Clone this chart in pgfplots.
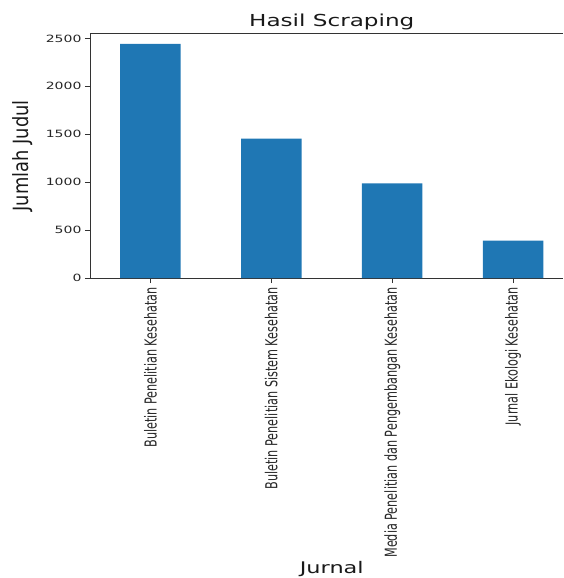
\documentclass[border=0pt]{standalone}
\usepackage{fontspec}
\setmainfont{DejaVu Sans}
\newfontfamily\hfont[FakeStretch=1.4]{DejaVu Sans}
\newfontfamily\vfont[FakeStretch=0.68]{DejaVu Sans}
\newfontfamily\yfont[FakeStretch=0.85]{DejaVu Sans}
\usepackage{pgfplots}
\pgfplotsset{compat=1.18}
\usetikzlibrary{calc}
\definecolor{mplblue}{HTML}{1F77B4}
\definecolor{axgray}{HTML}{333333}
\begin{document}
\begin{tikzpicture}
\begin{axis}[
  scale only axis, width=473pt, height=244.3pt,
  xmin=-0.5, xmax=3.413, ymin=0, ymax=2549,
  clip=false,
  axis lines=left,
  axis line style={-, line width=0.8pt, axgray},
  tick align=outside, major tick length=5pt,
  tick style={line width=0.8pt, axgray},
  xtick={0,1,2,3},
  xticklabels={Buletin Penelitian Kesehatan, Buletin Penelitian Sistem Kesehatan, Media Penelitian dan Pengembangan Kesehatan, Jurnal Ekologi Kesehatan},
  xticklabel style={yshift=-4pt, rotate=90, anchor=east, inner sep=0pt, font=\vfont\fontsize{16.5}{18}\selectfont, text=black!85},
  ytick={0,500,1000,1500,2000,2500},
  yticklabel style={font=\hfont\fontsize{10}{12}\selectfont, text=black!85},
  /pgf/number format/.cd, 1000 sep={}, assume math mode=true,
  /pgfplots/.cd,
  ylabel={Jumlah Judul},
  every axis y label/.style={at={(rel axis cs:0,0.5)}, xshift=-67pt, rotate=90, anchor=center, font=\yfont\fontsize{21}{24}\selectfont, text=black!90},
  xlabel={Jurnal},
  every axis x label/.style={at={(rel axis cs:0.5111,0)}, yshift=-295pt, anchor=base, font=\hfont\fontsize{16}{18}\selectfont, text=black!90},
]
\addplot[ybar, bar width=0.5, fill=mplblue, draw=none] coordinates {(0,2442) (1,1453) (2,987) (3,389)};
\coordinate (bl) at (rel axis cs:0,0);
\draw[line width=0.8pt, axgray] (rel axis cs:0,1) -- (rel axis cs:1,1);
\node[anchor=base, font=\hfont\fontsize{16.5}{18}\selectfont, text=black!90] at (rel axis cs:0.5111,1) [yshift=7pt] {Hasil Scraping};
\end{axis}
\pgfresetboundingbox
\path ($(bl)+(-90pt,-300pt)$) rectangle ($(bl)+(473pt,278pt)$);
\end{tikzpicture}
\end{document}
